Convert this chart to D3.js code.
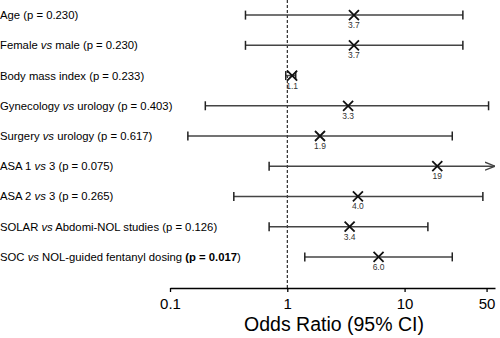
<!DOCTYPE html>
<html><head><meta charset="utf-8">
<script src="https://cdn.jsdelivr.net/npm/d3@7"></script>
<style>body{margin:0;background:#fff}svg{display:block}</style>
</head><body>
<svg id="c" width="500" height="338"></svg>
<script>
const labelsPre = ["Age", "Female", "Body mass index", "Gynecology", "Surgery", "ASA 1", "ASA 2", "SOLAR", "SOC"];
const labelsVs = [null, "male", null, "urology", "urology", "3", "3", "Abdomi-NOL studies", "NOL-guided fentanyl dosing"];
const pValues = ["0.230", "0.230", "0.233", "0.403", "0.617", "0.075", "0.265", "0.126", "0.017"];
const pBold = [false, false, false, false, false, false, false, false, true];
const oddsRatio = [3.7, 3.7, 1.1, 3.3, 1.9, 19, 4.0, 3.4, 6.0];
const ciLow = [0.44, 0.44, 0.97, 0.20, 0.142, 0.70, 0.35, 0.70, 1.41];
const ciHigh = [31.4, 31.4, 1.18, 52, 25.5, null, 46.5, 15.8, 25.5];
const orLabels = ["3.7", "3.7", "1.1", "3.3", "1.9", "19", "4.0", "3.4", "6.0"];
const tickValues = [0.1, 1, 10, 50];
const tickLabels = ["0.1", "1", "10", "50"];

const svg = d3.select("#c");
const x = d3.scaleLog().domain([0.1, 59]).range([170, 495]);
const y = d3.scaleBand().domain(d3.range(labelsPre.length)).range([0, 272]);
const yc = i => y(i) + y.bandwidth() / 2;
const font = "Arial, 'Liberation Sans', Helvetica, sans-serif";
const lineCol = "#444";

// reference line at OR=1
svg.append("line").attr("x1", x(1)).attr("x2", x(1)).attr("y1", 0).attr("y2", 288)
  .attr("stroke", "#000").attr("stroke-width", 1).attr("stroke-dasharray", "3,2");

// labels
labelsPre.forEach((pre, i) => {
  const t = svg.append("text").attr("x", 0).attr("y", yc(i)).attr("dy", "0.35em")
    .attr("font-family", font).attr("font-size", 11.3).attr("fill", "#000");
  t.append("tspan").text(pre + " ");
  if (labelsVs[i]) {
    t.append("tspan").attr("font-style", "italic").text("vs");
    t.append("tspan").text(" " + labelsVs[i] + " ");
  }
  t.append("tspan").attr("font-weight", pBold[i] ? "bold" : "normal").text("(p = " + pValues[i]);
  t.append("tspan").text(")");
});

// arrow marker
svg.append("defs").append("marker").attr("id", "arr").attr("viewBox", "0 0 10 10")
  .attr("refX", 10).attr("refY", 5).attr("markerWidth", 10).attr("markerHeight", 10)
  .attr("markerUnits", "userSpaceOnUse").attr("orient", "auto")
  .append("path").attr("d", "M0,1 L10,5 L0,9").attr("fill", "none").attr("stroke", lineCol).attr("stroke-width", 1.3);

const rows = svg.append("g").selectAll("g").data(d3.range(labelsPre.length)).join("g");
rows.append("line")
  .attr("x1", i => x(ciLow[i])).attr("x2", i => ciHigh[i] ? x(ciHigh[i]) : 495)
  .attr("y1", yc).attr("y2", yc)
  .attr("stroke", lineCol).attr("stroke-width", 1.5)
  .attr("marker-end", i => ciHigh[i] ? null : "url(#arr)");
rows.append("line").attr("x1", i => x(ciLow[i])).attr("x2", i => x(ciLow[i]))
  .attr("y1", i => yc(i) - 4.5).attr("y2", i => yc(i) + 4.5).attr("stroke", "#222").attr("stroke-width", 1.5);
rows.filter(i => ciHigh[i]).append("line").attr("x1", i => x(ciHigh[i])).attr("x2", i => x(ciHigh[i]))
  .attr("y1", i => yc(i) - 4.5).attr("y2", i => yc(i) + 4.5).attr("stroke", "#222").attr("stroke-width", 1.5);
rows.append("path")
  .attr("d", i => { const cx = x(oddsRatio[i]), cy = yc(i), s = 5;
    return `M${cx - s},${cy - s}L${cx + s},${cy + s}M${cx - s},${cy + s}L${cx + s},${cy - s}`; })
  .attr("stroke", "#111").attr("stroke-width", 1.8).attr("fill", "none");
rows.append("text").attr("x", i => x(oddsRatio[i])).attr("y", i => yc(i) + 13)
  .attr("text-anchor", "middle").attr("font-family", font).attr("font-size", 8.5).attr("fill", "#333")
  .text(i => orLabels[i]);

// axis
const axis = d3.axisBottom(x).tickValues(tickValues).tickFormat((d, i) => tickLabels[i]).tickSize(4).tickSizeOuter(0);
const ag = svg.append("g").attr("transform", "translate(0,288)").call(axis);
ag.select(".domain").attr("stroke", "#000").attr("stroke-width", 1.5);
ag.selectAll(".tick line").attr("stroke", "#000").attr("stroke-width", 1.3);
ag.selectAll(".tick text").attr("font-family", font).attr("font-size", 15).attr("fill", "#000").attr("dy", "0.95em");

svg.append("text").attr("x", 334).attr("y", 331).attr("text-anchor", "middle")
  .attr("font-family", font).attr("font-size", 19.5).attr("fill", "#000").text("Odds Ratio (95% CI)");
</script>
</body></html>
